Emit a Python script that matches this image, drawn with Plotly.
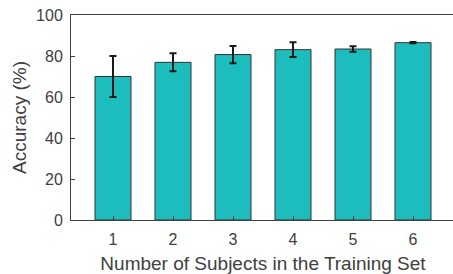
import plotly.graph_objects as go

subjects = [1, 2, 3, 4, 5, 6]
accuracy = [70.0, 76.9, 80.7, 83.1, 83.4, 86.5]
err = [10.0, 4.4, 4.2, 3.6, 1.3, 0.3]
y_ticks = [0, 20, 40, 60, 80, 100]

fig = go.Figure()
fig.add_trace(go.Bar(
    x=subjects, y=accuracy, width=0.6,
    marker=dict(color="#1dbdbd", line=dict(color="#333333", width=1)),
    error_y=dict(type="data", array=err, visible=True, color="#1a1a1a",
                 thickness=2, width=3.5),
))

FONT = "Liberation Sans, Arial, sans-serif"
tick_font = dict(family=FONT, size=16, color="#404040")
title_font = dict(family=FONT, size=19, color="#404040")
fig.update_layout(
    width=455, height=274,
    margin=dict(l=71, r=0, t=14.5, b=53.5),
    plot_bgcolor="white", paper_bgcolor="white",
    showlegend=False,
    font=tick_font,
)
fig.update_xaxes(
    range=[0.3, 6.7], tickvals=subjects, ticktext=[str(s) for s in subjects],
    showline=True, linecolor="#404040", linewidth=1, mirror=True,
    ticks="inside", ticklen=4, tickcolor="#404040", showgrid=False, zeroline=False,
    ticklabelstandoff=5, ticklabeloverflow="allow",
    title=dict(text="Number of Subjects in the Training Set", font=title_font, standoff=9),
    tickfont=tick_font,
)
fig.update_yaxes(
    range=[0, 100], tickvals=y_ticks, ticktext=[str(t) for t in y_ticks],
    showline=True, linecolor="#404040", linewidth=1, mirror=True,
    ticks="inside", ticklen=4, tickcolor="#404040", showgrid=False, zeroline=False,
    ticklabelstandoff=4, ticklabeloverflow="allow",
    title=dict(text="Accuracy (%)", font=title_font, standoff=4),
    tickfont=tick_font,
)
fig.write_html(
    "out.html",
    config={"displayModeBar": False, "staticPlot": True},
    post_script=(
        "document.body.style.margin='0';"
        "document.body.style.overflow='hidden';"
        "document.documentElement.style.overflow='hidden';"
    ),
)
